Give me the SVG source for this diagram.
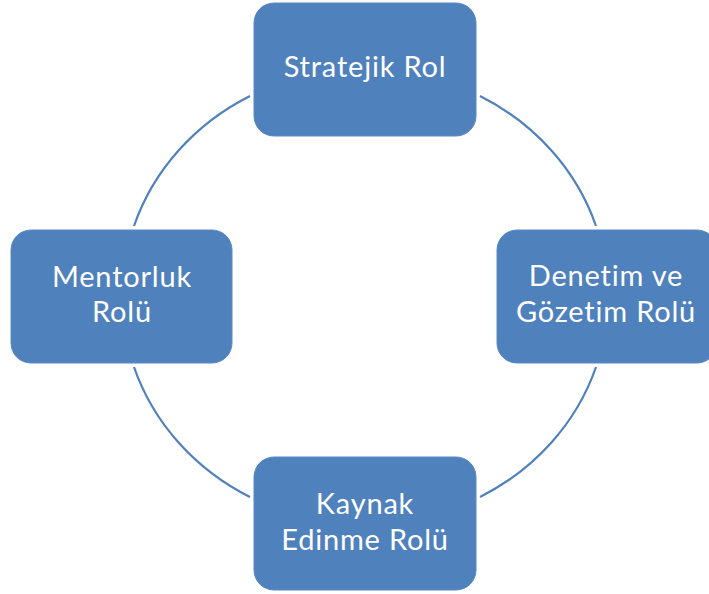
<svg xmlns="http://www.w3.org/2000/svg" width="709" height="594" viewBox="0 0 709 594">
<style>
.box{fill:#4F81BD;stroke:#5A8AC4;stroke-width:1}
.lbl{font-family:Lato,"Open Sans","Liberation Sans",sans-serif;font-size:29px;letter-spacing:0.8px;fill:#FFFFFF;text-anchor:middle}
.arc{fill:none;stroke:#4F81BD;stroke-width:2.2}
</style>
<rect width="709" height="594" fill="#FFFFFF"/>
<g id="connectors">
<path class="arc" d="M480,96 A243,227 0 0 1 596,226"/>
<path class="arc" d="M596,367 A243,227 0 0 1 480,497"/>
<path class="arc" d="M250,497 A243,227 0 0 1 134,367"/>
<path class="arc" d="M134,226 A243,227 0 0 1 250,96"/>
</g>
<g id="node-strategic">
<rect class="box" x="254" y="3" width="222" height="133" rx="20"/>
<text class="lbl" x="365" y="77">Stratejik Rol</text>
</g>
<g id="node-denetim">
<rect class="box" x="497" y="230" width="220" height="133" rx="20"/>
<text class="lbl" x="606" y="286">Denetim ve</text>
<text class="lbl" x="606" y="322">Gözetim Rolü</text>
</g>
<g id="node-kaynak">
<rect class="box" x="254" y="457" width="222" height="133" rx="20"/>
<text class="lbl" x="365" y="514">Kaynak</text>
<text class="lbl" x="365" y="550">Edinme Rolü</text>
</g>
<g id="node-mentorluk">
<rect class="box" x="11" y="230" width="221" height="133" rx="20"/>
<text class="lbl" x="122" y="287">Mentorluk</text>
<text class="lbl" x="122" y="322">Rolü</text>
</g>
</svg>
